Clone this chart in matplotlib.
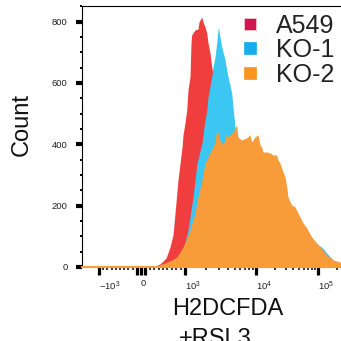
import matplotlib
matplotlib.use('Agg')
import matplotlib.pyplot as plt
import numpy as np
from matplotlib.lines import Line2D
from matplotlib.ticker import FixedLocator, MultipleLocator

plt.rcParams['font.family'] = 'Liberation Sans'

# histogram outlines: fluorescence value -> count
red_x = [205, 318, 432, 477, 568, 659, 727, 773, 841, 932, 955, 1000, 1057, 1102,
         1176, 1215, 1242, 1384, 1524, 1574, 1718, 1794, 1915, 2024, 2109, 2250,
         2377, 2479, 2917, 3540, 4303, 5224, 7000]
red_y = [0, 3, 10, 16, 29, 65, 104, 176, 284, 391, 431, 470, 512, 577,
         620, 731, 757, 773, 776, 799, 815, 799, 783, 763, 731, 698,
         652, 633, 447, 219, 72, 16, 0]

blue_x = [614, 705, 841, 955, 1102, 1296, 1476, 1735, 1853, 2024, 2109, 2377, 2479,
          2648, 2797, 2947, 3112, 3288, 3659, 4035, 4550, 4790, 5058, 5345, 5957,
          8227, 11600, 20000, 37600, 57300, 79100, 95300, 116000, 138000, 175000,
          227000, 305000]
blue_y = [0, 7, 16, 55, 121, 228, 339, 404, 457, 512, 554, 620, 652,
          685, 731, 783, 750, 718, 675, 620, 567, 512, 457, 414, 349,
          267, 235, 230, 195, 140, 95, 75, 64, 46, 23,
          13, 8]

orange_x = [-1400, 205, 364, 545, 705, 818, 955, 1067, 1176, 1384, 1524, 1735, 1915,
            2109, 2250, 2479, 2648, 2797, 2917, 3112, 3428, 3659, 3864, 4035, 4303,
            4742, 5058, 5345, 5566, 6281, 7390, 8227, 8690, 9680, 10770, 11600,
            12360, 12970, 14890, 16830, 18800, 21570, 22650, 24390, 27230, 29370,
            31270, 32810, 37640, 42580, 47580, 57290, 65740, 79090, 95340, 114700,
            138100, 174700, 226600, 305000]
orange_y = [3, 3, 3, 13, 23, 33, 65, 95, 121, 176, 228, 284, 339,
            359, 372, 391, 408, 447, 437, 414, 398, 414, 437, 424, 431,
            440, 453, 463, 424, 414, 421, 431, 408, 424, 431, 398,
            391, 375, 375, 372, 365, 365, 349, 339, 310, 294,
            261, 228, 202, 196, 176, 144, 127, 98, 78, 59,
            39, 23, 16, 10]

labels = ['A549', 'KO-1', 'KO-2']
fill_colors = ['#F03E3F', '#3CC6F2', '#F89C3A']
key_colors = ['#D3154F', '#17ACEB', '#F7951F']

x_major = [-1000, -100, 0, 100, 1000, 1e4, 1e5]
x_major_labels = [r'$\mathregular{-10^{3}}$', '', '0', '', r'$\mathregular{10^{3}}$',
                  r'$\mathregular{10^{4}}$', r'$\mathregular{10^{5}}$']


# rough biexponential display: linear around zero, log above 10^3
def fwd(x):
    x = np.asarray(x, dtype=float)
    out = np.empty_like(x)
    neg = x < 0
    lin = (x >= 0) & (x <= 1e3)
    mid = (x > 1e3) & (x <= 1e4)
    hi = x > 1e4
    out[neg] = 42.0 * x[neg] / 1e3
    out[lin] = 44.0 * x[lin] / 1e3
    out[mid] = 44.0 + 71.0 * (np.log10(x[mid]) - 3)
    out[hi] = 115.0 + 62.0 * (np.log10(x[hi]) - 4)
    return out


def inv(d):
    d = np.asarray(d, dtype=float)
    out = np.empty_like(d)
    neg = d < 0
    lin = (d >= 0) & (d <= 44)
    mid = (d > 44) & (d <= 115)
    hi = d > 115
    out[neg] = d[neg] / 42.0 * 1e3
    out[lin] = d[lin] / 44.0 * 1e3
    out[mid] = 10 ** (3 + (d[mid] - 44) / 71.0)
    out[hi] = 10 ** (4 + (d[hi] - 115) / 62.0)
    return out


fig = plt.figure(figsize=(3.41, 3.41), dpi=100)
ax = fig.add_axes([82/341, 74/341, 266/341, 261/341])
ax.set_xscale('function', functions=(fwd, inv))

for xs, ys, c, z in [(red_x, red_y, fill_colors[0], 1),
                     (blue_x, blue_y, fill_colors[1], 2),
                     (orange_x, orange_y, fill_colors[2], 3)]:
    ax.fill_between(xs, 0, ys, color=c, lw=0, zorder=z)

ax.set_xlim(inv([-59.0])[0], inv([207.0])[0])
ax.set_ylim(0, 851)

ax.spines['right'].set_visible(False)
ax.spines['bottom'].set_color(fill_colors[2])
ax.spines['bottom'].set_linewidth(1.5)
ax.spines['left'].set_linewidth(0.8)
ax.spines['top'].set_linewidth(0.8)

ax.yaxis.set_major_locator(FixedLocator([0, 200, 400, 600, 800]))
ax.yaxis.set_minor_locator(MultipleLocator(50))
ax.tick_params(axis='y', which='major', length=4.3, width=3.0, pad=6,
               labelsize=6.8, labelcolor='#222222')
ax.tick_params(axis='y', which='minor', length=1.6, width=1.4)

minor = list(range(-900, -100, 100)) + list(range(200, 1000, 100))
minor += [m * 10 ** k for k in (3, 4) for m in range(2, 10)] + [2e5, 3e5]
ax.xaxis.set_major_locator(FixedLocator(x_major))
ax.xaxis.set_minor_locator(FixedLocator(minor))
ax.set_xticklabels(x_major_labels)
ax.tick_params(axis='x', which='major', length=5.8, width=2.3, pad=3,
               labelsize=6.8, labelcolor='#222222')
ax.tick_params(axis='x', which='minor', length=2.5, width=1.1)
for lab in ax.get_xticklabels():
    lab.set_horizontalalignment('left')

fig.text(22/341, 1 - 125/341, 'Count', rotation=90, fontsize=17,
         ha='center', va='center', color='#111111')
fig.text(227.5/341, 26/341, 'H2DCFDA', fontsize=17, ha='center',
         va='baseline', color='#111111')
fig.text(215.5/341, -4/341, '+RSL3', fontsize=17, ha='center',
         va='baseline', color='#111111')

handles = [Line2D([], [], marker='s', linestyle='none', markersize=8,
                  markerfacecolor=c, markeredgecolor='#f4d0d8' if i == 0 else c,
                  markeredgewidth=0.5, alpha=1) for i, c in enumerate(key_colors)]
ax.legend(handles, labels, loc='upper left', bbox_to_anchor=(240/341, 1 - 13.6/341),
          bbox_transform=fig.transFigure, frameon=False, fontsize=18,
          borderpad=0, borderaxespad=0, handlelength=0.8, handletextpad=0.64,
          labelspacing=0.02, labelcolor='#222222')

fig.savefig('out.png', dpi=100)
